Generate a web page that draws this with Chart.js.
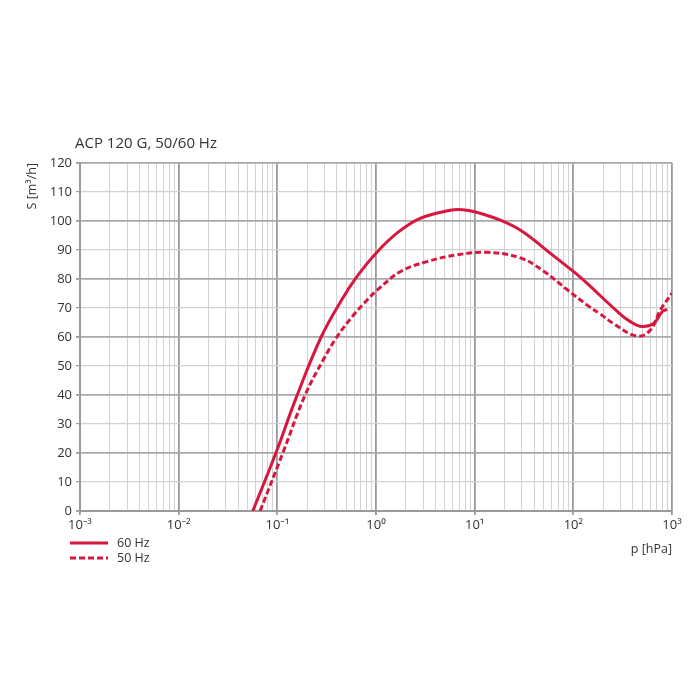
<!DOCTYPE html>
<html>
<head>
<meta charset="utf-8">
<script src="https://cdn.jsdelivr.net/npm/chart.js@4.4.1/dist/chart.umd.min.js"></script>
<style>
  html, body { margin: 0; padding: 0; background: #fff; }
  #wrap { width: 700px; height: 700px; }
</style>
</head>
<body>
<div id="wrap"><canvas id="grafico" width="700" height="700"></canvas></div>
<script>
// Datos (p en hPa, S en m³/h)
const presion60 = [0.0564, 0.0966, 0.155, 0.278, 0.451, 0.64, 1, 1.63, 2.8, 5.66, 7.5, 10, 18.2, 30.2, 54, 100, 138, 277, 378, 497, 652, 794, 890];
const caudal60  = [0, 20, 39, 60, 72.9, 80.8, 88.9, 95.8, 100.9, 103.7, 103.9, 103.2, 100.3, 96.5, 89.8, 82.6, 78.5, 68.9, 65.3, 63.6, 64.7, 68.7, 69.5];

const presion50 = [0.0669, 0.1136, 0.1914, 0.294, 0.401, 0.59, 0.828, 1, 1.76, 3.28, 6.6, 13, 29, 50, 86, 138, 188, 256, 443, 604, 762, 1000];
const caudal50  = [0, 20, 40, 52.3, 60, 67.5, 73, 75.8, 82.5, 86, 88.3, 89.2, 87.3, 82.7, 76.4, 71, 67.9, 64.6, 60.3, 62.4, 69.3, 75.1];

const etiquetasX = ['10⁻³', '10⁻²', '10⁻¹', '10⁰', '10¹', '10²', '10³'];
const decadas = [-3, -2, -1, 0, 1, 2, 3];
const ticksY = [0, 10, 20, 30, 40, 50, 60, 70, 80, 90, 100, 110, 120];

const rojo = '#d8173f';
const fuente = '"Open Sans", "Noto Sans", sans-serif';

function puntos(xs, ys) {
    return xs.map((x, i) => ({ x: x, y: ys[i] }));
}

function esDecada(v) {
    const l = Math.log10(v);
    return Math.abs(l - Math.round(l)) < 1e-6;
}

// Título y leyenda dibujados a mano (la leyenda va en columna)
const extras = {
    id: 'extras',
    afterDraw(chart) {
        const ctx = chart.ctx;
        const area = chart.chartArea;
        ctx.save();
        ctx.fillStyle = '#333';
        ctx.font = '15px ' + fuente;
        ctx.textBaseline = 'alphabetic';
        ctx.textAlign = 'left';
        ctx.fillText('ACP 120 G, 50/60 Hz', area.left - 5, area.top - 15);

        const items = [
            { texto: '60 Hz', dash: [] },
            { texto: '50 Hz', dash: [6, 3] }
        ];
        ctx.font = '12.5px ' + fuente;
        ctx.textBaseline = 'middle';
        items.forEach((it, i) => {
            const y = area.bottom + 32 + i * 15;
            ctx.strokeStyle = rojo;
            ctx.lineWidth = 3;
            ctx.setLineDash(it.dash);
            ctx.beginPath();
            ctx.moveTo(area.left - 10, y);
            ctx.lineTo(area.left + 28, y);
            ctx.stroke();
            ctx.setLineDash([]);
            ctx.fillStyle = '#333';
            ctx.fillText(it.texto, area.left + 37, y);
        });
        ctx.restore();
    }
};

new Chart(document.getElementById('grafico'), {
    type: 'line',
    data: {
        datasets: [
            {
                label: '60 Hz',
                data: puntos(presion60, caudal60),
                borderColor: rojo,
                borderWidth: 3,
                pointRadius: 0,
                tension: 0.4,
                fill: false
            },
            {
                label: '50 Hz',
                data: puntos(presion50, caudal50),
                borderColor: rojo,
                borderWidth: 3,
                borderDash: [6, 3],
                pointRadius: 0,
                tension: 0.4,
                fill: false
            }
        ]
    },
    options: {
        responsive: false,
        animation: false,
        layout: { padding: { left: 25, right: 28, top: 163, bottom: 143 } },
        plugins: {
            legend: { display: false },
            tooltip: { enabled: false }
        },
        scales: {
            x: {
                type: 'logarithmic',
                min: 0.001,
                max: 1000,
                afterBuildTicks(scale) {
                    const t = [];
                    decadas.forEach(d => {
                        if (d === 3) { t.push({ value: 1000 }); return; }
                        for (let m = 1; m <= 9; m++) t.push({ value: m * Math.pow(10, d) });
                    });
                    scale.ticks = t;
                },
                afterFit(scale) { scale.height = 46; },
                grid: {
                    color: c => esDecada(c.tick.value) ? '#9a9a9a' : '#d2d2d2',
                    lineWidth: c => esDecada(c.tick.value) ? 1.8 : 1,
                    tickLength: 4,
                    tickColor: c => esDecada(c.tick.value) ? '#9a9a9a' : 'rgba(0,0,0,0)'
                },
                border: { color: '#9a9a9a', width: 2 },
                ticks: {
                    autoSkip: false,
                    maxRotation: 0,
                    padding: 2,
                    color: '#333',
                    font: { family: fuente, size: 13 },
                    callback: function (v) {
                        if (!esDecada(v)) return '';
                        return etiquetasX[decadas.indexOf(Math.round(Math.log10(v)))];
                    }
                },
                title: {
                    display: true,
                    text: 'p [hPa]',
                    align: 'end',
                    color: '#333',
                    font: { family: fuente, size: 12.5 },
                    padding: { top: 6, bottom: 0 }
                }
            },
            y: {
                min: 0,
                max: 120,
                afterBuildTicks(scale) {
                    scale.ticks = ticksY.map(v => ({ value: v }));
                },
                afterFit(scale) { scale.width = 55; },
                grid: {
                    color: c => (c.tick.value % 20 === 0) ? '#a8a8a8' : '#d2d2d2',
                    lineWidth: c => (c.tick.value % 20 === 0) ? 1.8 : 1.2,
                    tickLength: 4,
                    tickColor: '#9a9a9a'
                },
                border: { color: '#9a9a9a', width: 2 },
                ticks: {
                    padding: 4,
                    color: '#333',
                    font: { family: fuente, size: 13 }
                },
                title: {
                    display: true,
                    text: 'S [m³/h]',
                    align: 'end',
                    color: '#333',
                    font: { family: fuente, size: 12.5 },
                    padding: { top: 0, bottom: 6 }
                }
            }
        }
    },
    plugins: [extras]
});
</script>
</body>
</html>
